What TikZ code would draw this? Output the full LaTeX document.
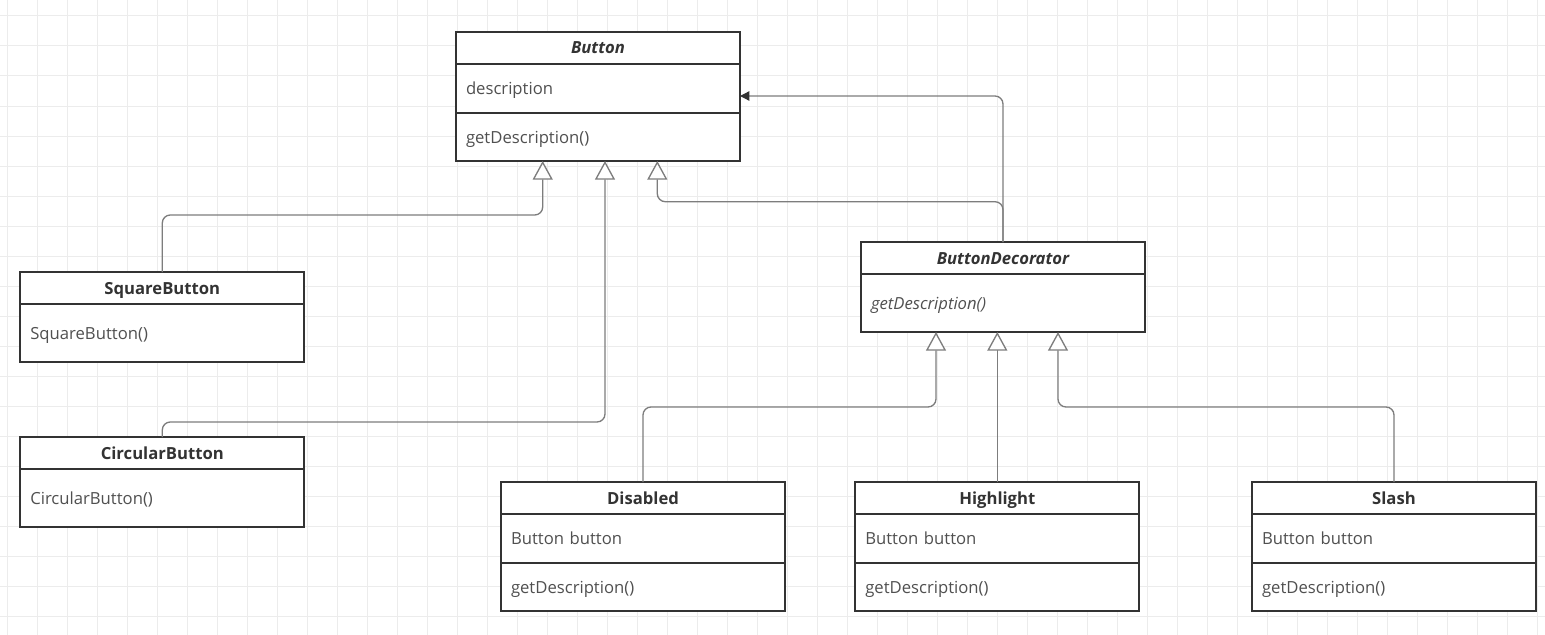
\documentclass[tikz,border=0pt]{standalone}
\usepackage{fontspec}
\setmainfont{Open Sans}
\usetikzlibrary{positioning,arrows.meta}
\definecolor{gridc}{RGB}{236,236,236}
\definecolor{boxc}{RGB}{51,51,51}
\definecolor{txtc}{RGB}{80,80,80}
\definecolor{linec}{RGB}{125,125,125}

\begin{document}
\begin{tikzpicture}[x=0.75pt,y=-0.75pt,
    gridln/.style={draw=gridc,line width=0.75pt},
    hdr/.style={draw=boxc,line width=1.3pt,fill=white,outer sep=0pt,inner sep=0pt,
        minimum width=213pt,text width=198pt,minimum height=24pt,align=center,
        text height=10.5pt,text depth=1.5pt,
        text=boxc,font=\fontsize{12.5}{15}\selectfont\bfseries},
    hdri/.style={hdr,font=\fontsize{12.5}{15}\selectfont\bfseries\itshape},
    fld/.style={draw=boxc,line width=1.3pt,fill=white,outer sep=0pt,inner xsep=7.5pt,inner ysep=0pt,
        minimum width=213pt,text width=198pt,align=left,
        text height=10.5pt,text depth=1.5pt,
        text=txtc,font=\fontsize{12.5}{15}\selectfont},
    fldi/.style={fld,font=\fontsize{12.5}{15}\selectfont\itshape},
    inh/.style={draw=linec,line width=1pt,rounded corners=6pt,
        -{Triangle[open,length=14pt,width=15pt,fill=white]}},
    assoc/.style={draw=linec,line width=1pt,rounded corners=6pt,
        -{Triangle[length=7pt,width=7pt,color=boxc]}}]
    \useasboundingbox (0,0) rectangle (1545,635);

    % grid
    \foreach \x in {7,37,...,1537} \draw[gridln] (\x,0) -- (\x,635);
    \foreach \y in {16,46,...,616} \draw[gridln] (0,\y) -- (1545,\y);

    % Button
    \node[hdri] (btn) at (598,48) {Button};
    \node[fld,minimum height=36.75pt,below=0pt of btn] (btnA) {description};
    \node[fld,minimum height=36pt,below=0pt of btnA] (btnM) {getDescription()};

    % SquareButton
    \node[hdr] (sq) at (162.3,288) {SquareButton};
    \node[fld,minimum height=43.5pt,below=0pt of sq] (sqM) {SquareButton()};

    % CircularButton
    \node[hdr] (circ) at (162.3,453) {CircularButton};
    \node[fld,minimum height=43.5pt,below=0pt of circ] (circM) {CircularButton()};

    % ButtonDecorator
    \node[hdri] (deco) at (1003,258) {ButtonDecorator};
    \node[fldi,minimum height=43.5pt,below=0pt of deco] (decoM) {getDescription()};

    % Disabled
    \node[hdr] (dis) at (643,498) {Disabled};
    \node[fld,minimum height=36.75pt,below=0pt of dis] (disA) {Button button};
    \node[fld,minimum height=36pt,below=0pt of disA] (disM) {getDescription()};

    % Highlight
    \node[hdr] (hl) at (997.3,498) {Highlight};
    \node[fld,minimum height=36.75pt,below=0pt of hl] (hlA) {Button button};
    \node[fld,minimum height=36pt,below=0pt of hlA] (hlM) {getDescription()};

    % Slash
    \node[hdr] (sl) at (1394,498) {Slash};
    \node[fld,minimum height=36.75pt,below=0pt of sl] (slA) {Button button};
    \node[fld,minimum height=36pt,below=0pt of slA] (slM) {getDescription()};

    % inheritance to Button
    \draw[inh] (sq.north) -- ++(0,-57) -| ([shift={(-55.3,0)}]btnM.south);
    \draw[inh] (circ.north) -- ++(0,-15) -| ([shift={(7,0)}]btnM.south);
    \draw[inh] (deco.north) -- ++(0,-40.3) -| ([shift={(59.3,0)}]btnM.south);
    % association
    \draw[assoc] (deco.north) |- ([shift={(0,7.5)}]btnA.east);

    % inheritance to ButtonDecorator
    \draw[inh] (dis.north) -- ++(0,-75) -| ([shift={(-67,0)}]decoM.south);
    \draw[inh] (hl.north) -- (hl.north |- decoM.south);
    \draw[inh] (sl.north) -- ++(0,-75) -| ([shift={(55,0)}]decoM.south);
\end{tikzpicture}
\end{document}
